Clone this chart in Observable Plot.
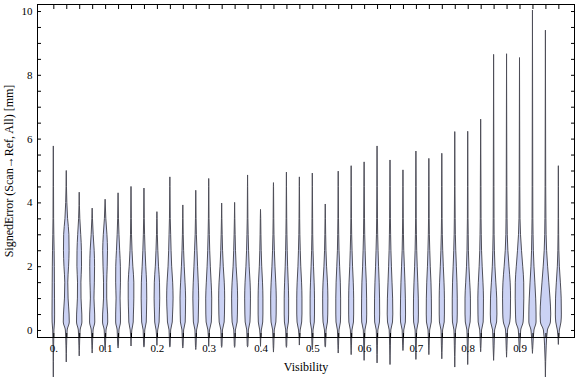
<!DOCTYPE html>
<html><head><meta charset="utf-8">
<script src="https://cdn.jsdelivr.net/npm/d3@7"></script>
<script src="https://cdn.jsdelivr.net/npm/@observablehq/plot@0.6"></script>
<style>body{margin:0;background:#fff}#chart{width:576px;height:377px}</style>
</head><body><div id="chart"></div>
<script>
const visibility = [0, 0.025, 0.05, 0.075, 0.1, 0.125, 0.15, 0.175, 0.2, 0.225,
  0.25, 0.275, 0.3, 0.325, 0.35, 0.375, 0.4, 0.425, 0.45, 0.475,
  0.5, 0.525, 0.55, 0.575, 0.6, 0.625, 0.65, 0.675, 0.7, 0.725,
  0.75, 0.775, 0.8, 0.825, 0.85, 0.875, 0.9, 0.925, 0.95, 0.975];
const errMin = [-1.46, -0.99, -0.80, -0.71, -0.63, -0.55, -0.49, -0.52, -0.47, -0.52,
  -0.55, -0.60, -0.50, -0.53, -0.53, -0.52, -0.50, -0.68, -0.53, -0.46,
  -0.60, -0.52, -0.71, -0.76, -0.94, -1.02, -1.07, -0.63, -0.91, -0.76,
  -0.89, -1.15, -1.07, -0.67, -0.94, -0.84, -0.68, -0.72, -1.46, -0.44];
const errMax = [5.77, 5.0, 4.32, 3.82, 4.1, 4.3, 4.5, 4.45, 3.71, 4.8,
  3.92, 4.38, 4.75, 3.98, 4.0, 4.86, 3.78, 4.62, 4.95, 4.8,
  4.92, 3.95, 4.98, 5.15, 5.27, 5.77, 5.33, 5.02, 5.61, 5.38,
  5.54, 6.22, 6.23, 6.61, 8.64, 8.66, 8.54, 10.03, 9.4, 5.15];
// density levels (error values) at which the violin half-widths were read
const levels = [-0.5, 0, 0.25, 0.5, 1, 1.5, 2, 2.5, 3, 3.5, 4.5];
const density = [
  [0.3, 0.6, 1.2, 1.3, 1.2, 1.1, 1.0, 0.8, 0.5, 0.3, 0.2],
  [0.3, 0.9, 3.0, 2.8, 1.8, 1.5, 2.3, 2.8, 2.6, 1.3, 0.2],
  [0.3, 0.9, 2.7, 2.6, 1.8, 1.7, 2.3, 2.2, 1.5, 0.6, 0.1],
  [0.3, 0.9, 2.6, 2.5, 1.8, 2.2, 2.4, 2.0, 1.0, 0.3, 0.1],
  [0.3, 0.9, 2.6, 2.5, 1.6, 1.6, 2.1, 2.4, 1.8, 0.7, 0.1],
  [0.3, 0.9, 2.4, 2.4, 2.0, 2.4, 2.3, 1.6, 0.9, 0.4, 0.1],
  [0.3, 0.8, 2.2, 2.4, 2.8, 2.8, 1.8, 1.0, 0.5, 0.3, 0.1],
  [0.3, 0.8, 2.3, 2.5, 2.8, 2.6, 1.8, 1.1, 0.6, 0.3, 0.1],
  [0.3, 0.8, 2.2, 2.4, 2.8, 2.6, 1.6, 0.9, 0.4, 0.2, 0.1],
  [0.3, 0.8, 2.4, 2.7, 3.2, 2.8, 1.8, 1.2, 0.8, 0.4, 0.1],
  [0.3, 0.8, 2.4, 2.6, 2.8, 2.2, 1.4, 0.8, 0.4, 0.2, 0.1],
  [0.3, 0.8, 2.4, 2.6, 2.9, 2.5, 1.8, 1.2, 0.6, 0.3, 0.1],
  [0.3, 0.8, 2.6, 2.9, 3.0, 2.4, 1.6, 1.0, 0.6, 0.3, 0.1],
  [0.3, 0.8, 2.5, 2.8, 3.0, 2.6, 1.6, 0.9, 0.5, 0.2, 0.1],
  [0.3, 0.8, 2.5, 2.8, 3.0, 2.5, 1.5, 0.9, 0.5, 0.2, 0.1],
  [0.3, 0.8, 2.4, 2.7, 2.9, 2.5, 1.6, 1.0, 0.6, 0.3, 0.1],
  [0.3, 0.8, 2.2, 2.4, 2.4, 2.0, 1.2, 0.7, 0.4, 0.2, 0.1],
  [0.3, 0.8, 2.4, 2.7, 2.8, 2.3, 1.5, 0.9, 0.5, 0.3, 0.1],
  [0.3, 0.7, 2.0, 2.2, 2.2, 1.8, 1.2, 0.8, 0.5, 0.3, 0.1],
  [0.3, 0.8, 2.3, 2.6, 2.6, 2.2, 1.4, 0.9, 0.5, 0.3, 0.1],
  [0.3, 0.7, 2.0, 2.2, 2.2, 1.8, 1.2, 0.7, 0.4, 0.3, 0.1],
  [0.3, 0.8, 2.2, 2.5, 2.6, 2.2, 1.3, 0.7, 0.4, 0.2, 0.1],
  [0.3, 0.8, 2.2, 2.4, 2.4, 2.1, 1.4, 0.8, 0.5, 0.3, 0.1],
  [0.3, 0.8, 2.3, 2.5, 2.5, 2.1, 1.4, 0.9, 0.5, 0.3, 0.1],
  [0.4, 0.8, 2.4, 2.6, 2.5, 2.2, 1.5, 1.0, 0.6, 0.4, 0.2],
  [0.4, 0.8, 2.4, 2.6, 2.5, 2.1, 1.5, 1.0, 0.6, 0.4, 0.2],
  [0.4, 0.8, 2.5, 2.8, 2.6, 2.0, 1.4, 0.9, 0.6, 0.4, 0.2],
  [0.3, 0.8, 2.4, 2.6, 2.4, 2.0, 1.4, 0.8, 0.5, 0.3, 0.1],
  [0.4, 0.8, 2.3, 2.5, 2.4, 1.9, 1.3, 0.8, 0.5, 0.3, 0.2],
  [0.3, 0.8, 2.4, 2.6, 2.5, 2.1, 1.4, 0.9, 0.5, 0.3, 0.2],
  [0.4, 0.8, 2.4, 2.6, 2.6, 2.2, 1.5, 0.9, 0.5, 0.3, 0.2],
  [0.4, 0.8, 2.3, 2.5, 2.5, 2.2, 1.6, 1.0, 0.6, 0.4, 0.2],
  [0.4, 0.8, 2.4, 2.7, 2.7, 2.0, 1.2, 0.7, 0.5, 0.3, 0.2],
  [0.3, 0.9, 2.5, 2.7, 2.8, 2.3, 1.5, 0.9, 0.6, 0.4, 0.3],
  [0.5, 1.0, 3.0, 3.3, 3.1, 2.2, 1.3, 0.8, 0.5, 0.4, 0.3],
  [0.4, 1.0, 3.2, 3.8, 4.0, 3.6, 2.4, 1.3, 0.7, 0.5, 0.3],
  [0.4, 1.2, 3.6, 4.0, 4.3, 4.2, 3.2, 2.0, 1.0, 0.5, 0.3],
  [0.4, 1.5, 3.6, 3.6, 3.2, 2.4, 1.5, 0.9, 0.6, 0.4, 0.3],
  [0.8, 2.0, 5.0, 5.3, 4.6, 3.4, 2.2, 1.2, 0.7, 0.5, 0.3],
  [0.3, 1.0, 2.6, 3.0, 2.8, 2.0, 1.0, 0.5, 0.3, 0.2, 0.1]
];
const xTicks = [0, 0.1, 0.2, 0.3, 0.4, 0.5, 0.6, 0.7, 0.8, 0.9];
const xTickLabels = ["0.", "0.1", "0.2", "0.3", "0.4", "0.5", "0.6", "0.7", "0.8", "0.9"];
const yTicks = [0, 2, 4, 6, 8, 10];
const yMinorTicks = [0, 0.5, 1, 1.5, 2, 2.5, 3, 3.5, 4, 4.5, 5, 5.5, 6, 6.5, 7, 7.5, 8, 8.5, 9, 9.5, 10];
const xLabel = "Visibility";
const yLabel = "SignedError (Scan\u2192Ref, All) [mm]";

const W = 576, H = 377, mL = 37, mR = 2, mT = 4, mB = 40;
const xDomain = [-0.0315, 1.0052];
const yDomain = [-0.22, 10.22];
const unitPerPx = (xDomain[1] - xDomain[0]) / (W - mL - mR);

const rows = [];
visibility.forEach((v, i) => {
  rows.push({id: i, y: errMin[i], x1: v, x2: v});
  levels.forEach((L, j) => {
    if (L > errMin[i] && L < errMax[i]) {
      const w = density[i][j] * unitPerPx;
      rows.push({id: i, y: L, x1: v - w, x2: v + w});
    }
  });
  rows.push({id: i, y: errMax[i], x1: v, x2: v});
});

const serif = "'Liberation Serif', 'Times New Roman', Times, serif";
const chart = Plot.plot({
  width: W, height: H,
  marginLeft: mL, marginRight: mR, marginTop: mT, marginBottom: mB,
  x: {domain: xDomain},
  y: {domain: yDomain},
  style: {fontFamily: serif, fontSize: "11px", color: "#000", background: "#fff", overflow: "visible"},
  marks: [
    Plot.areaX(rows, {y: "y", x1: "x1", x2: "x2", z: "id", fill: "#cbd2f4", stroke: "#4e4e58", strokeWidth: 1, curve: "monotone-y"}),
    Plot.frame({stroke: "#000"}),
    Plot.axisY(yMinorTicks, {anchor: "left", tickSize: -4, fill: "none", label: null}),
    Plot.axisY(yMinorTicks, {anchor: "right", tickSize: -4, fill: "none", label: null}),
    Plot.axisY(yTicks, {anchor: "left", tickSize: 0, tickPadding: 5, label: null, fontSize: 11}),
    Plot.axisX(visibility, {anchor: "top", tickSize: -4, fill: "none", label: null}),
    Plot.axisX(visibility, {anchor: "bottom", tickSize: -4, fill: "none", label: null}),
    Plot.axisX(xTicks, {anchor: "bottom", tickSize: 0, tickPadding: 7, label: null, fontSize: 11,
      tickFormat: d => xTickLabels[xTicks.indexOf(d)]}),
    Plot.text([xLabel], {text: d => d, frameAnchor: "bottom", textAnchor: "middle", lineAnchor: "middle", dy: 30, fontSize: 12}),
    Plot.text([yLabel], {text: d => d, frameAnchor: "left", textAnchor: "middle", lineAnchor: "middle", dx: -28, rotate: -90, fontSize: 12})
  ]
});
document.getElementById("chart").appendChild(chart);
</script>
</body></html>
